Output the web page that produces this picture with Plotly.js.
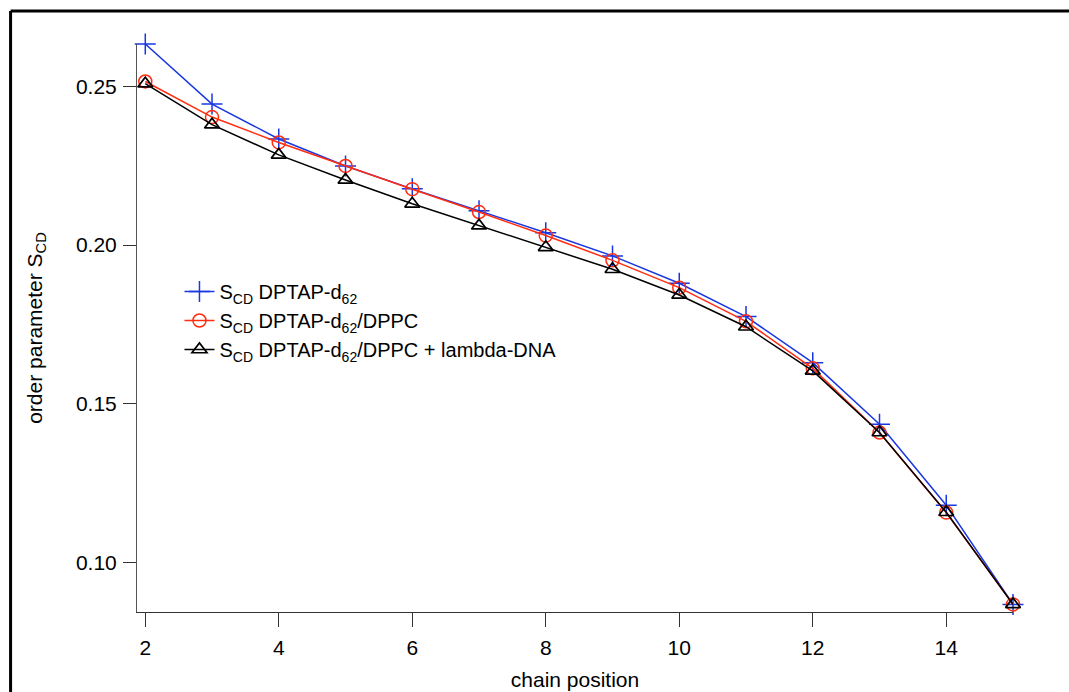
<!DOCTYPE html>
<html>
<head>
<meta charset="utf-8">
<script src="https://cdn.plot.ly/plotly-3.0.1.min.js"></script>
<style>html,body{margin:0;padding:0;background:#fff;}#chart{width:1069px;height:692px;}</style>
</head>
<body>
<div id="chart"></div>
<script>
// chain positions
const chainPosition = [2, 3, 4, 5, 6, 7, 8, 9, 10, 11, 12, 13, 14, 15];
// order parameter S_CD, DPTAP-d62
const scdDPTAP = [0.2633, 0.2444, 0.2334, 0.2249, 0.2177, 0.2108, 0.2039, 0.1966, 0.1880, 0.1775, 0.1630, 0.1436, 0.1181, 0.0869];
// order parameter S_CD, DPTAP-d62/DPPC
const scdDPTAPDPPC = [0.2515, 0.2403, 0.2323, 0.2249, 0.2176, 0.2104, 0.2030, 0.1952, 0.1866, 0.1760, 0.1612, 0.1410, 0.1158, 0.0869];
// order parameter S_CD, DPTAP-d62/DPPC + lambda-DNA
const scdDPTAPDPPCDNA = [0.2508, 0.2379, 0.2284, 0.2205, 0.2130, 0.2061, 0.1993, 0.1924, 0.1843, 0.1743, 0.1604, 0.1410, 0.1159, 0.0869];

const seriesNames = [
  'S<sub>CD</sub> DPTAP-d<sub>62</sub>',
  'S<sub>CD</sub> DPTAP-d<sub>62</sub>/DPPC',
  'S<sub>CD</sub> DPTAP-d<sub>62</sub>/DPPC + lambda-DNA'
];
const yTickVals = [0.10, 0.15, 0.20, 0.25];
const xTickVals = [2, 4, 6, 8, 10, 12, 14];

const FONT = 'Liberation Sans, Arial, Helvetica, sans-serif';

const traces = [
  {
    x: chainPosition, y: scdDPTAP, name: seriesNames[0], type: 'scatter', mode: 'lines+markers',
    cliponaxis: false,
    line: {color: 'rgb(25,55,225)', width: 1.5},
    marker: {symbol: 'cross-thin-open', size: 15, line: {color: 'rgb(25,55,225)', width: 1.5}}
  },
  {
    x: chainPosition, y: scdDPTAPDPPC, name: seriesNames[1], type: 'scatter', mode: 'lines+markers',
    cliponaxis: false,
    line: {color: 'rgb(255,45,15)', width: 1.5},
    marker: {symbol: 'circle-open', size: 13, color: 'rgb(255,45,15)', line: {color: 'rgb(255,45,15)', width: 1.5}}
  },
  {
    x: chainPosition, y: scdDPTAPDPPCDNA, name: seriesNames[2], type: 'scatter', mode: 'lines+markers',
    cliponaxis: false,
    line: {color: '#000', width: 1.5},
    marker: {symbol: 'triangle-up-open', size: 13, color: '#000', line: {color: '#000', width: 1.7}}
  }
];

const L = 136.5, R = 56, T = 44, B = 80;
const W = 1069, H = 692;
const pw = W - L - R, ph = H - T - B;
const px = v => (v - L) / pw;
const py = v => (H - B - v) / ph;

const layout = {
  width: W, height: H,
  margin: {l: L, r: R, t: T, b: B, pad: 0},
  paper_bgcolor: '#fff', plot_bgcolor: '#fff',
  font: {family: FONT, size: 20, color: '#000'},
  showlegend: true,
  legend: {
    x: px(179), y: py(272), xanchor: 'left', yanchor: 'top',
    bgcolor: 'rgba(0,0,0,0)', borderwidth: 0,
    font: {family: FONT, size: 20, color: '#000'},
    tracegroupgap: 0
  },
  xaxis: {
    range: [1.876, 15], autorange: false,
    tickvals: xTickVals, ticktext: xTickVals.map(String),
    showline: true, linecolor: '#333', linewidth: 1,
    ticks: 'outside', ticklen: 14, tickcolor: '#333', tickwidth: 1,
    ticklabelstandoff: 3,
    showgrid: false, zeroline: false, automargin: false,
    tickfont: {family: FONT, size: 21, color: '#000'},
    title: {text: 'chain position', font: {family: FONT, size: 21, color: '#000'}, standoff: 14}
  },
  yaxis: {
    range: [0.0845, 0.2633], autorange: false,
    tickvals: yTickVals, ticktext: yTickVals.map(v => v.toFixed(2)),
    showline: true, linecolor: '#555', linewidth: 1,
    ticks: 'outside', ticklen: 13, tickcolor: '#333', tickwidth: 1,
    ticklabelstandoff: 2,
    showgrid: false, zeroline: false, automargin: false,
    tickfont: {family: FONT, size: 21, color: '#000'},
    title: {text: 'order parameter S<sub>CD</sub>', font: {family: FONT, size: 21, color: '#000'}, standoff: 27}
  },
  shapes: [
    {type: 'line', xref: 'paper', yref: 'paper', x0: px(10), x1: px(1075), y0: py(11), y1: py(11), line: {color: '#000', width: 3}},
    {type: 'line', xref: 'paper', yref: 'paper', x0: px(10), x1: px(10), y0: py(11), y1: py(700), line: {color: '#000', width: 3}}
  ]
};

Plotly.newPlot('chart', traces, layout, {displayModeBar: false, staticPlot: true});
</script>
</body>
</html>
